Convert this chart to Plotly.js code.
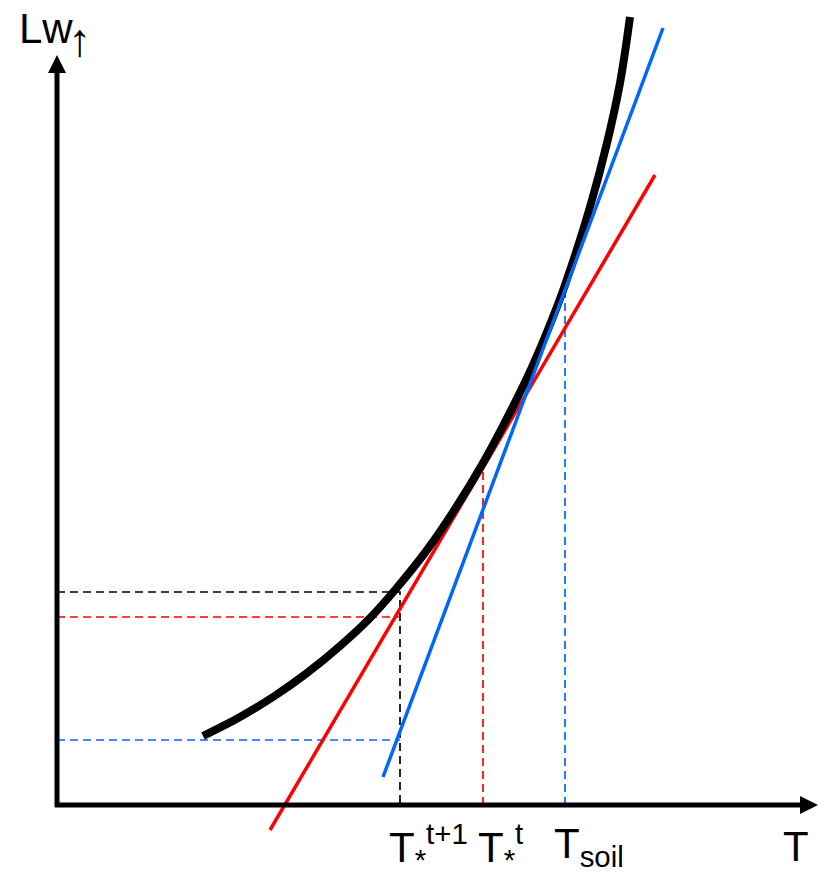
<!DOCTYPE html>
<html>
<head>
<meta charset="utf-8">
<script src="https://cdn.plot.ly/plotly-3.0.1.min.js"></script>
<style>html,body{margin:0;padding:0;background:#fff;}#chart{width:827px;height:875px;}</style>
</head>
<body>
<div id="chart"></div>
<script>
// Diagram units: origin at the axes corner, 1 unit ≈ 1 px
// Emission curve Lw↑(T)
const curveT  = [146, 183, 216, 250, 283, 313, 338, 370, 398, 426, 448, 470, 490, 508, 533, 550, 563, 573];
const curveLw = [ 69,  88, 108, 132, 159, 187, 215, 255, 296, 342, 383, 427, 473, 520, 598, 662, 722, 788];

// Tangent lines (end points)
const redT  = [213, 598];
const redLw = [-25, 630];
const blueT  = [326, 606];
const blueLw = [28, 777];

// Marked temperatures and levels
const tNext = 343;   // T*^(t+1)
const tStar = 426;   // T*^t
const tSoil = 508;   // T_soil
const lwBlack = 213, lwRed = 188, lwBlue = 65;
const lwRedTop = 340, lwBlueTop = 515;

// Axis extents
const axisXEnd = 761, axisYEnd = 750;

const dash = "8px,5px";
const blueC = "#0066ff", redC = "#ff0000";

const traces = [
  {x:[0, tNext, tNext], y:[lwBlack, lwBlack, 0], mode:"lines", line:{color:"#000", width:1.7, dash:dash}},
  {x:[0, tNext], y:[lwRed, lwRed], mode:"lines", line:{color:redC, width:1.7, dash:dash}},
  {x:[0, tNext], y:[lwBlue, lwBlue], mode:"lines", line:{color:blueC, width:1.7, dash:dash}},
  {x:[tStar, tStar], y:[0, lwRedTop], mode:"lines", line:{color:redC, width:1.7, dash:dash}},
  {x:[tSoil, tSoil], y:[0, lwBlueTop], mode:"lines", line:{color:blueC, width:1.7, dash:dash}},
  {x:redT, y:redLw, mode:"lines", line:{color:redC, width:3.5}},
  {x:curveT, y:curveLw, mode:"lines", line:{color:"#000", width:8, shape:"spline", smoothing:1}},
  {x:blueT, y:blueLw, mode:"lines", line:{color:blueC, width:3.5}}
];

const ah = 18, aw = 9;
const shapes = [
  {type:"line", xref:"x", yref:"y", x0:-2, y0:0, x1:axisXEnd-ah+2, y1:0, line:{color:"#000", width:5}},
  {type:"line", xref:"x", yref:"y", x0:0, y0:-2, x1:0, y1:axisYEnd-ah+2, line:{color:"#000", width:5}},
  {type:"path", xref:"x", yref:"y", path:`M ${axisXEnd-ah} ${aw} L ${axisXEnd} 0 L ${axisXEnd-ah} ${-aw} Z`, fillcolor:"#000", line:{width:0}},
  {type:"path", xref:"x", yref:"y", path:`M ${-aw} ${axisYEnd-ah} L 0 ${axisYEnd} L ${aw} ${axisYEnd-ah} Z`, fillcolor:"#000", line:{width:0}}
];

const fnt = {family:"Liberation Sans, Arial, sans-serif", size:42, color:"#000"};
const labY = -41;
const annotations = [
  {x:tNext, y:labY, xref:"x", yref:"y", text:"T<sub>*</sub><sup>t+1</sup>", showarrow:false, xanchor:"left", xshift:-13, font:fnt},
  {x:tStar, y:labY, xref:"x", yref:"y", text:"T<sub>*</sub><sup>t</sup>", showarrow:false, xanchor:"left", xshift:-7, font:fnt},
  {x:tSoil, y:labY, xref:"x", yref:"y", text:"T<sub>soil</sub>", showarrow:false, xanchor:"left", xshift:-13, font:fnt},
  {x:axisXEnd-22, y:labY, xref:"x", yref:"y", text:"T", showarrow:false, xanchor:"center", font:fnt},
  {x:-40, y:axisYEnd+27, xref:"x", yref:"y", text:"Lw", showarrow:false, xanchor:"left", font:fnt},
  {x:22, y:axisYEnd+15, xref:"x", yref:"y", text:"↑", showarrow:false, xanchor:"center", font:{family:"Liberation Sans, Arial, sans-serif", size:46, color:"#000"}}
];

const layout = {
  width:827, height:875,
  margin:{l:0, r:0, t:0, b:0, pad:0},
  paper_bgcolor:"#fff", plot_bgcolor:"#fff",
  showlegend:false,
  xaxis:{range:[-57, 770], visible:false, fixedrange:true},
  yaxis:{range:[-70, 805], visible:false, fixedrange:true},
  shapes:shapes,
  annotations:annotations
};

Plotly.newPlot("chart", traces, layout, {staticPlot:true, displayModeBar:false});
</script>
</body>
</html>
